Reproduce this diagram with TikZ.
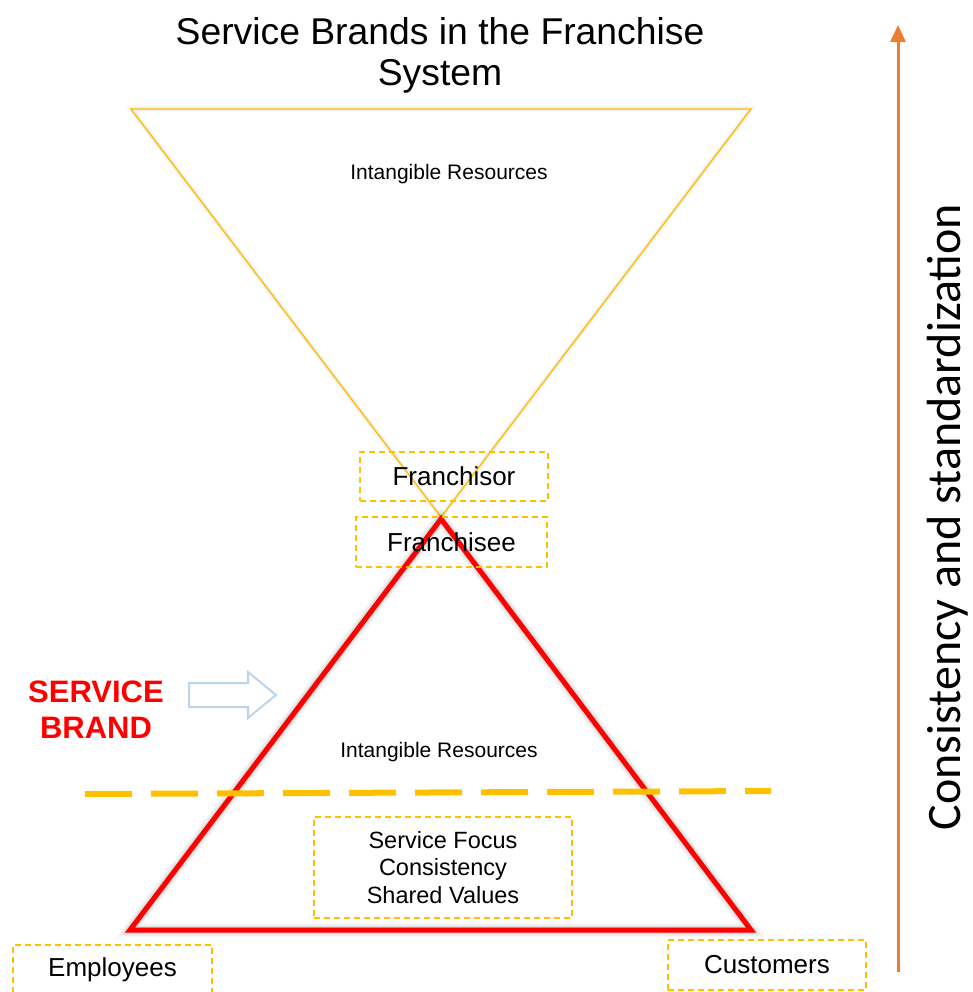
\documentclass[tikz,border=0pt]{standalone}
\usepackage{fontspec}
\setmainfont{Liberation Sans}
\newfontfamily\carl{Carlito}
\usetikzlibrary{arrows.meta}
\definecolor{gold}{HTML}{FFC000}
\definecolor{ored}{HTML}{FF0000}
\definecolor{oarrow}{HTML}{ED7D31}
\definecolor{lblue}{HTML}{BDD4EC}
\begin{document}
\begin{tikzpicture}[x=1pt,y=-1pt,
  dbox/.style={draw=gold,dash pattern=on 6pt off 4pt,line width=1.3pt,inner sep=0pt,align=center},
  lbl/.style={font=\fontsize{26}{30}\selectfont,text=black},
  small/.style={font=\fontsize{21}{25}\selectfont,text=black},
  shad/.style={black,line join=miter,opacity=#1}]
\useasboundingbox (0,0) rectangle (973,992);
% title
\node[align=center,font=\fontsize{37.3}{41}\selectfont] (title) at (440,55) {Service Brands in the Franchise\\System};
% yellow inverted triangle
\coordinate (yl) at (131,109);
\coordinate (yr) at (751,109);
\coordinate (ya) at (441,517);
\foreach \w/\o in {6/0.02,4/0.03}{
  \draw[shad=\o,line width=\w pt,shift={(1.5,1.5)}] (yl) -- (yr) -- (ya) -- cycle;}
\draw[gold,line width=1.4pt,line join=miter] (yl) -- (yr) -- (ya) -- cycle;
\node[small] (ir1) at (449,174) {Intangible Resources};
% red triangle
\coordinate (ra) at (441,519);
\coordinate (rl) at (130,930);
\coordinate (rr) at (751,930);
\foreach \w/\o in {14/0.03,11/0.04,8/0.06,6/0.08}{
  \draw[shad=\o,line width=\w pt,shift={(3,3)}] (ra) -- (rr) -- (rl) -- cycle;}
\draw[ored,line width=5pt,line join=miter] (ra) -- (rr) -- (rl) -- cycle;
\node[small] (ir2) at (439,752) {Intangible Resources};
% dashed separator
\coordinate (dl) at (85,794);
\coordinate (dr) at (771,791);
\draw[gold,line width=6pt,dash pattern=on 47pt off 19pt] (dl) -- (dr);
% boxes
\node[dbox,lbl,minimum width=188pt,minimum height=49pt] (fsor) at (454,476.5) {Franchisor};
\node[dbox,lbl,minimum width=191pt,minimum height=50pt] (fsee) at (451.5,542) {Franchisee};
\node[dbox,lbl,minimum width=199pt,minimum height=50pt] (emp) at (112.5,970) {Employees};
\node[dbox,lbl,minimum width=198pt,minimum height=50pt] (cust) at (767,965) {Customers};
\node[dbox,font=\fontsize{23.5}{27.5}\selectfont,minimum width=258pt,minimum height=101pt] (sf) at (443,867.5) {Service Focus\\Consistency\\Shared Values};
% service brand
\node[align=center,text=ored,font=\fontsize{31}{36}\bfseries\selectfont] (sb) at (96,710) {SERVICE\\BRAND};
% hollow arrow
\draw[lblue,line width=2pt,fill=white,line join=miter] (189,683) -- (248,683) -- (248,672) -- (276,695) -- (248,718) -- (248,707) -- (189,707) -- cycle;
% orange arrow
\coordinate (ob) at (898,972);
\coordinate (ot) at (898,25);
\draw[oarrow,line width=3pt,-{Triangle[length=17pt,width=15pt]}] (ob) -- (ot);
\node[rotate=90,font=\carl\fontsize{48}{52}\selectfont] (cs) at (948,517) {Consistency and standardization};
\end{tikzpicture}
\end{document}
